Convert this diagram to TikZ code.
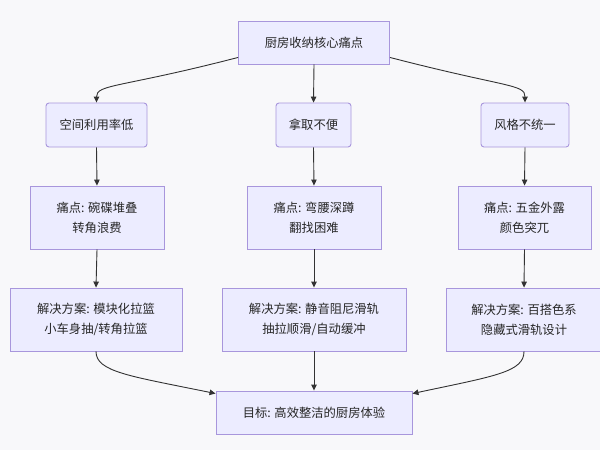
\documentclass[tikz,border=0pt]{standalone}
\usepackage{fontspec}
\setmainfont{Noto Sans CJK SC}
\usetikzlibrary{arrows.meta,calc}
\definecolor{bg}{HTML}{F8F8FA}
\definecolor{boxfill}{HTML}{ECECFF}
\definecolor{boxline}{HTML}{A896DC}
\definecolor{arrowc}{HTML}{333333}
\begin{document}
\begin{tikzpicture}[x=1pt,y=-1pt,
  box/.style={draw=boxline,fill=boxfill,line width=0.9pt,align=center,inner sep=0pt,
    font=\fontsize{12.3}{20}\selectfont,text=black!85},
  rbox/.style={box,rounded corners=3pt},
  conn/.style={draw=arrowc,line width=0.9pt,-{Triangle[length=6pt,width=5.5pt]}}]
\fill[bg] (0,0) rectangle (600,450);
\useasboundingbox (0,0) rectangle (600,450);
\node[box,minimum width=151pt,minimum height=43pt] (top) at (314,42.5) {厨房收纳核心痛点};
\node[rbox,minimum width=101pt,minimum height=44pt] (a1) at (96.5,125) {空间利用率低};
\node[rbox,minimum width=75pt,minimum height=44pt] (b1) at (313.5,125) {拿取不便};
\node[rbox,minimum width=88pt,minimum height=44pt] (c1) at (525,125) {风格不统一};
\node[box,minimum width=134pt,minimum height=63pt] (a2) at (97,217.5) {痛点: 碗碟堆叠\\转角浪费};
\node[box,minimum width=134pt,minimum height=63pt] (b2) at (314,217.5) {痛点: 弯腰深蹲\\翻找困难};
\node[box,minimum width=133pt,minimum height=63pt] (c2) at (524.5,217.5) {痛点: 五金外露\\颜色突兀};
\node[box,minimum width=172pt,minimum height=63pt] (a3) at (96,319.5) {解决方案: 模块化拉篮\\小车身抽/转角拉篮};
\node[box,minimum width=184pt,minimum height=63pt] (b3) at (314,319.5) {解决方案: 静音阻尼滑轨\\抽拉顺滑/自动缓冲};
\node[box,minimum width=156pt,minimum height=63pt] (c3) at (524,319.5) {解决方案: 百搭色系\\隐藏式滑轨设计};
\node[box,minimum width=196pt,minimum height=43pt] (goal) at (314,412.5) {目标: 高效整洁的厨房体验};
\coordinate (tl) at ($(top.south west)+(0,-7)$);
\coordinate (tr) at ($(top.south east)+(0,-7)$);
\path[conn] (tl) .. controls (120,88) and (96.5,84) .. (a1.north);
\path[conn] (tr) .. controls (508,88) and (525,84) .. (c1.north);
\path[conn] (top.south) -- (b1.north);
\path[conn] (a1.south) -- (a2.north);
\path[conn] (b1.south) -- (b2.north);
\path[conn] (c1.south) -- (c2.north);
\path[conn] (a2.south) -- (a3.north);
\path[conn] (b2.south) -- (b3.north);
\path[conn] (c2.south) -- (c3.north);
\path[conn] (b3.south) -- (goal.north);
\coordinate (gl) at ($(goal.north west)+(0,3)$);
\coordinate (gr) at ($(goal.north east)+(0,3)$);
\path[conn] (a3.south) .. controls (96,372) and (130,376) .. (gl);
\path[conn] (c3.south) .. controls (524,372) and (495,376) .. (gr);
\end{tikzpicture}
\end{document}
